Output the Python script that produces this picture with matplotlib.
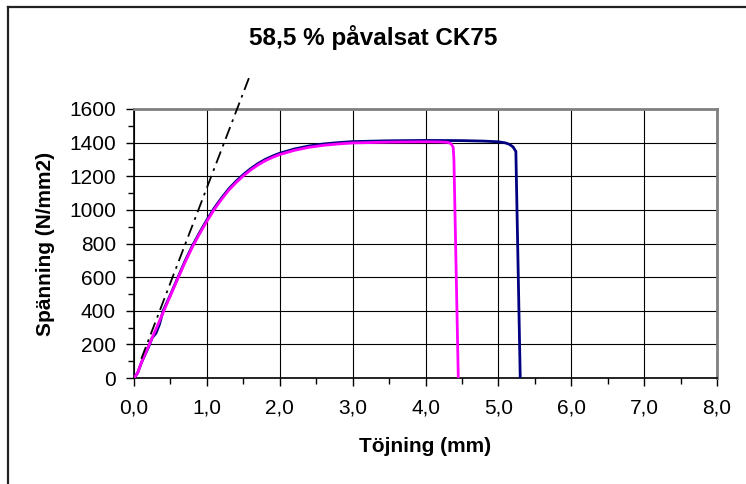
import matplotlib.pyplot as plt
from matplotlib.lines import Line2D
from matplotlib.ticker import MultipleLocator, FuncFormatter

plt.rcParams['font.family'] = ['Liberation Sans', 'DejaVu Sans']

# Dragprov, två provstavar (töjning i mm, spänning i N/mm2)
prov1_x = [0.0, 0.05, 0.1, 0.2, 0.25, 0.3, 0.35, 0.4, 0.5, 0.6, 0.7, 0.8, 0.9,
           1.0, 1.1, 1.2, 1.3, 1.4, 1.5, 1.6, 1.7, 1.8, 1.9, 2.0, 2.2, 2.4,
           2.6, 2.8, 3.0, 3.5, 4.0, 4.5, 4.8, 5.0, 5.1, 5.15, 5.2, 5.24, 5.3]
prov1_y = [0, 30, 90, 185, 240, 265, 320, 400, 495, 595, 695, 785, 865,
           940, 1010, 1070, 1125, 1170, 1210, 1245, 1275, 1300, 1320, 1337, 1362, 1380,
           1392, 1400, 1406, 1411, 1413, 1412, 1409, 1405, 1398, 1390, 1375, 1348, 0]

prov2_x = [0.0, 0.05, 0.1, 0.2, 0.3, 0.4, 0.5, 0.6, 0.7, 0.8, 0.9,
           1.0, 1.1, 1.2, 1.3, 1.4, 1.5, 1.6, 1.7, 1.8, 1.9, 2.0, 2.2, 2.4,
           2.6, 2.8, 3.0, 3.5, 4.0, 4.2, 4.3, 4.35, 4.38, 4.39, 4.45]
prov2_y = [0, 30, 90, 190, 290, 390, 490, 590, 688, 778, 858,
           932, 1002, 1062, 1117, 1162, 1202, 1237, 1267, 1292, 1312, 1329, 1354, 1372,
           1384, 1392, 1398, 1403, 1405, 1404, 1402, 1394, 1372, 1300, 0]

# Elasticitetslinje
e_x = [0.1, 1.6]
e_y = [114, 1810]

fig = plt.figure(figsize=(7.46, 4.84), dpi=100)
ax = fig.add_axes([134 / 746, 1 - 378 / 484, (717 - 134) / 746, (378 - 109) / 484])

ax.plot(prov1_x, prov1_y, color='#000080', lw=2, zorder=3)
ax.plot(prov2_x, prov2_y, color='#ff00ff', lw=2, zorder=4)
ax.plot(e_x, e_y, color='black', lw=1.3, linestyle=(0, (7, 3, 1.5, 3)),
        clip_on=False, zorder=5)

ax.set_xlim(0, 8)
ax.set_ylim(0, 1600)
ax.xaxis.set_major_locator(MultipleLocator(1))
ax.xaxis.set_minor_locator(MultipleLocator(0.5))
ax.yaxis.set_major_locator(MultipleLocator(200))
ax.yaxis.set_minor_locator(MultipleLocator(100))
ax.xaxis.set_major_formatter(FuncFormatter(lambda v, p: ('%.1f' % v).replace('.', ',')))

ax.tick_params(which='major', direction='out', length=6, width=1, labelsize=15)
ax.tick_params(axis='x', which='major', pad=9)
ax.tick_params(axis='y', which='major', pad=7)
ax.tick_params(which='minor', direction='out', length=4, width=1)
ax.grid(True, which='major', color='black', lw=0.8)
ax.set_axisbelow(True)

for s in ['top', 'right']:
    ax.spines[s].set_color('#808080')
    ax.spines[s].set_linewidth(2)
for s in ['left', 'bottom']:
    ax.spines[s].set_color('black')
    ax.spines[s].set_linewidth(1.2)

ax.set_xlabel('Töjning (mm)', fontsize=15, fontweight='bold', labelpad=14)
ax.set_ylabel('Spänning (N/mm2)', fontsize=15, fontweight='bold', labelpad=10)
fig.text(0.5, 1 - 38 / 484, '58,5 % påvalsat CK75', ha='center', va='center',
         fontsize=17.5, fontweight='bold')

# ram runt diagrammet
fig.add_artist(Line2D([8 / 746, 1.0], [1 - 7 / 484, 1 - 7 / 484],
                      transform=fig.transFigure, color='#222222', lw=1.6))
fig.add_artist(Line2D([8 / 746, 8 / 746], [0.0, 1 - 7 / 484],
                      transform=fig.transFigure, color='#222222', lw=1.6))

fig.savefig('out.png', dpi=100)
